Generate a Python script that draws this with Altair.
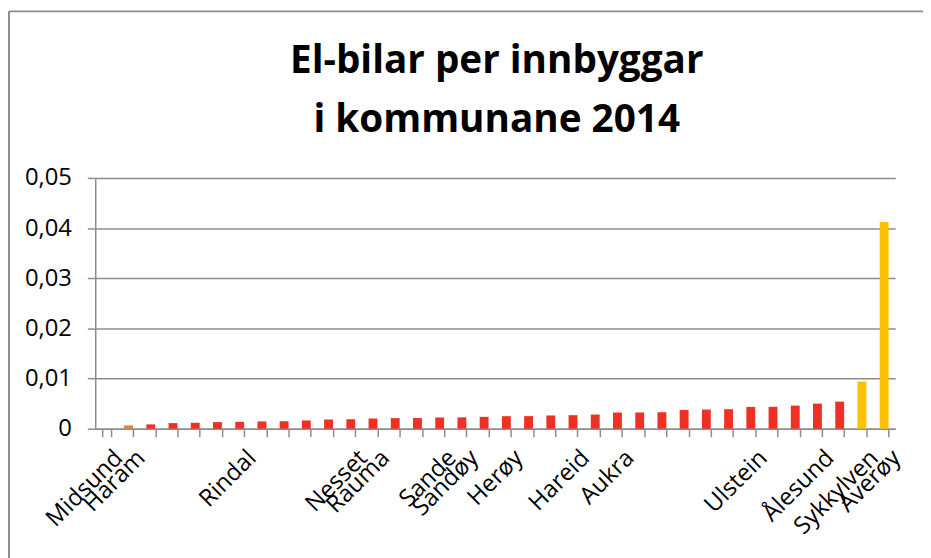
import json
import altair as alt
import pandas as pd

names = ["Midsund", "Haram", "", "", "", "", "Rindal", "", "", "", "",
         "Nesset", "Rauma", "", "", "Sande", "Sandøy", "", "Herøy", "", "",
         "Hareid", "", "Aukra", "", "", "", "", "", "Ulstein", "", "",
         "Ålesund", "", "Sykkylven", "Averøy"]
values = [0.0, 0.00066, 0.00086, 0.00112, 0.00119, 0.00132, 0.00138, 0.00145,
          0.00147, 0.00165, 0.00184, 0.00191, 0.00204, 0.00211, 0.00213,
          0.00224, 0.00226, 0.00237, 0.0025, 0.00251, 0.00264, 0.0027,
          0.00283, 0.00323, 0.00324, 0.00329, 0.00375, 0.00382, 0.00389,
          0.00435, 0.00437, 0.00461, 0.005, 0.0054, 0.0094, 0.0412]
groups = ["raud"] * 36
groups[1] = "oransje"
groups[34] = "gul"
groups[35] = "gul"
y_ticks = [0, 0.01, 0.02, 0.03, 0.04, 0.05]
title_lines = ["El-bilar per innbyggar", "i kommunane 2014"]

df = pd.DataFrame({"idx": list(range(len(values))), "namn": names,
                   "verdi": values, "gruppe": groups})
one = pd.DataFrame({"k": [0]})

label_expr = json.dumps(names, ensure_ascii=False) + "[datum.value]"
FONT = "Open Sans"
GREY = "#8C8C8C"

bars = alt.Chart(df).mark_bar().encode(
    x=alt.X("idx:O", title=None,
            scale=alt.Scale(paddingInner=0.6, paddingOuter=0.3),
            axis=alt.Axis(labelExpr=label_expr, labelAngle=-45, labelAlign="right",
                          labelBaseline="top", labelPadding=9, labelOffset=4,
                          labelOverlap=False, labelLimit=0, labelFont=FONT,
                          labelFontSize=24, labelColor="#000000",
                          tickBand="extent", tickSize=8, tickColor=GREY,
                          tickWidth=1.5, domainColor=GREY, domainWidth=1.5,
                          grid=False)),
    y=alt.Y("verdi:Q", title=None,
            scale=alt.Scale(domain=[0, 0.05], nice=False),
            axis=alt.Axis(values=y_ticks,
                          labelExpr="datum.value == 0 ? '0' : replace(format(datum.value, '.2f'), '.', ',')",
                          labelFont=FONT, labelFontSize=24, labelColor="#000000",
                          labelPadding=16, tickSize=8, tickColor=GREY, tickWidth=1.5,
                          domainColor=GREY, domainWidth=1.5,
                          gridColor=GREY, gridWidth=1.5)),
    color=alt.Color("gruppe:N", legend=None,
                    scale=alt.Scale(domain=["raud", "oransje", "gul"],
                                    range=["#EE3124", "#ED7D31", "#FFC000"])),
)

title = alt.Chart(one).mark_text(
    text=title_lines, font=FONT, fontSize=39, fontWeight="bold", color="#000000",
    align="center", baseline="alphabetic", lineHeight=60,
).encode(x=alt.value(405), y=alt.value(-106))

border_top = alt.Chart(one).mark_rule(color=GREY, strokeWidth=2).encode(
    x=alt.value(-87), x2=alt.value(840), y=alt.value(-168))
border_left = alt.Chart(one).mark_rule(color=GREY, strokeWidth=2).encode(
    x=alt.value(-87), y=alt.value(-168), y2=alt.value(400))

chart = alt.layer(border_top, border_left, title, bars).properties(
    width=807, height=253,
    autosize=alt.AutoSizeParams(type="none"),
    padding={"left": 88, "top": 169, "right": 28, "bottom": 128},
).configure_view(strokeWidth=0)

chart.save("out.html", embed_options={"renderer": "svg", "actions": False})
